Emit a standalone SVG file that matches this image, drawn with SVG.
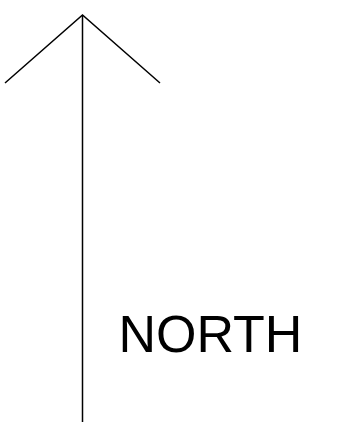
<svg xmlns="http://www.w3.org/2000/svg" width="356" height="425" viewBox="0 0 356 425">
<style>
.ln{stroke:#000;stroke-width:1.5;fill:none}
.lbl{font-family:"Liberation Sans",Arial,sans-serif;font-size:52px;fill:#000}
</style>
<rect width="356" height="425" fill="#fff"/>
<g id="connectors">
<line class="ln" x1="82.5" y1="15" x2="82.5" y2="422"/>
<polyline class="ln" points="5,83 82.5,15 160,83"/>
</g>
<g id="label">
<text class="lbl" x="118.4" y="352">NORTH</text>
</g>
</svg>
